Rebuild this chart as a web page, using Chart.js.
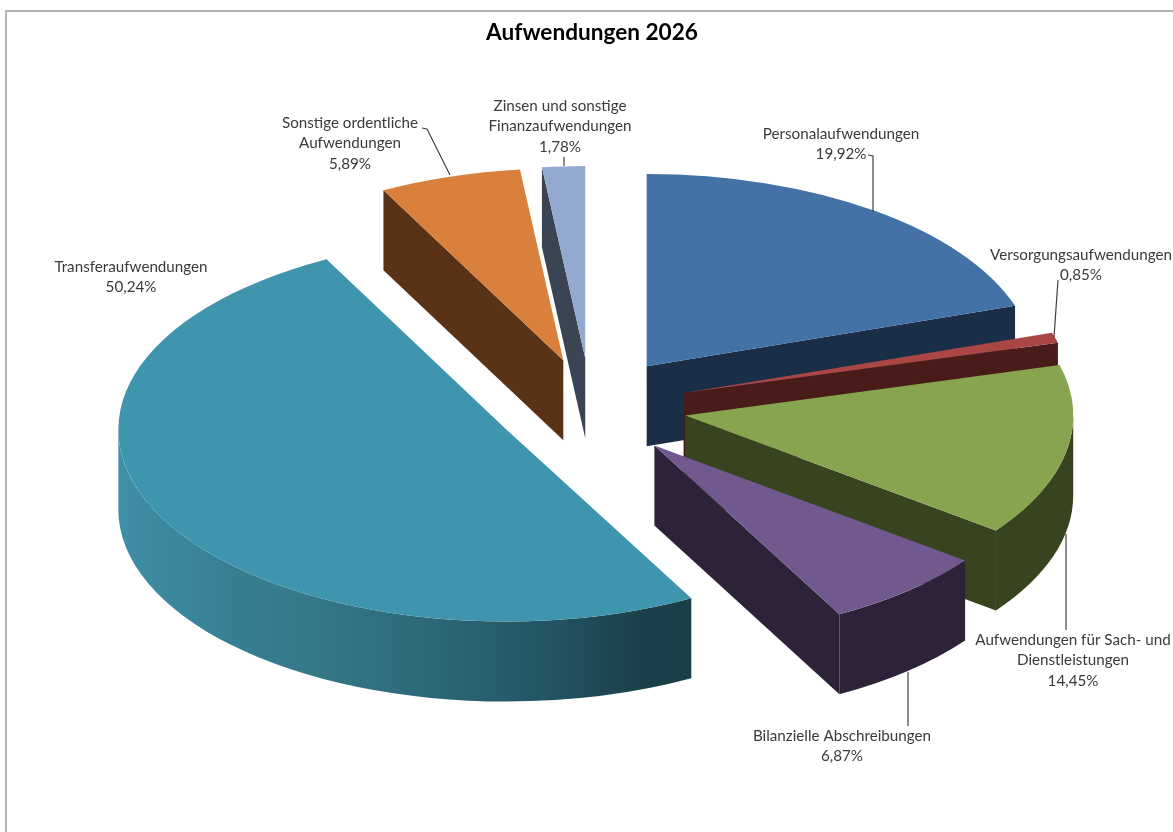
<!DOCTYPE html>
<html lang="de">
<head>
<meta charset="utf-8">
<title>Aufwendungen 2026</title>
<script src="https://cdn.jsdelivr.net/npm/chart.js@4"></script>
<style>
    html, body { margin: 0; padding: 0; background: #fff; }
    #box { width: 1173px; height: 832px; }
</style>
</head>
<body>
<div id="box"><canvas id="pieChart"></canvas></div>
<script>
// =======================================================
// Daten
// =======================================================

const categories = [
    "Personalaufwendungen",
    "Versorgungsaufwendungen",
    "Aufwendungen für Sach- und\nDienstleistungen",
    "Bilanzielle Abschreibungen",
    "Transferaufwendungen",
    "Sonstige ordentliche\nAufwendungen",
    "Zinsen und sonstige\nFinanzaufwendungen"
];
const values = [19.92, 0.85, 14.45, 6.87, 50.24, 5.89, 1.78];

const topColors  = ["#4471a6", "#aa4643", "#87a54f", "#71588f", "#4095ae", "#d8803c", "#93a9cf"];
const wallColors = ["#1a2e47", "#4a1c19", "#38431f", "#2d2238", "#1b3e49", "#5a3316", "#3b4453"];

// Explosion der Segmente, ungestauchte Pixel
const explode = [107, 105, 102, 100, 88, 105, 103];
// kleine Korrektur je Segment, Bildschirmpixel (Perspektive im Original)
const nudgeX = [-1, -2, 0, 4, -1, 9, 6];
const nudgeY = [0, -1, -3, -1, 0, 1, 0];
// hinten nach vorne
const drawOrder = [0, 1, 2, 3, 6, 5, 4];

const squash = 0.495;
const depth = 80;
const radius = 388;
const pieShiftX = -7;

// Textmitte und erste Zeile der Beschriftungen
const labelX = [841, 1081, 1073, 842, 131, 350, 560];
const labelY = [134, 255, 640, 736, 267, 123, 106];
const lineStep = 20.5;

// Führungslinien
const leaders = [
    [[868, 155], [873, 156], [873, 212]],
    [[1058, 280], [1054, 337]],
    [[1066, 534], [1066, 630]],
    [[908, 672], [908, 726]],
    [],
    [[422, 128], [427, 129], [450, 175]],
    [[564, 157], [564, 166]]
];

// =======================================================
// 3D: Seitenwände, dann die Arc-Elemente von Chart.js
// =======================================================

function drawWall(ctx, arc, i) {
    const {x, y, startAngle, endAngle} = arc.getProps(["x", "y", "startAngle", "endAngle"], true);
    const r = arc.outerRadius;
    const h = depth / squash;

    let fill = wallColors[i];
    if (i === 4) {
        // Transfer hat als einziges Segment einen Verlauf
        const g = ctx.createLinearGradient(x - r, 0, x + 181, 0);
        g.addColorStop(0, "#3f8fa6");
        g.addColorStop(0.2, "#367f93");
        g.addColorStop(0.35, "#347888");
        g.addColorStop(0.55, "#2c6878");
        g.addColorStop(0.75, "#235563");
        g.addColorStop(0.93, "#1a3e49");
        g.addColorStop(1, "#1b3e49");
        fill = g;
    }

    // nur die vordere Hälfte der Rundung ist sichtbar
    const from = Math.max(startAngle, 0);
    const to = Math.min(endAngle, Math.PI);
    if (from < to) {
        ctx.fillStyle = fill;
        ctx.beginPath();
        ctx.arc(x, y, r, from, to);
        ctx.arc(x, y + h, r, to, from, true);
        ctx.closePath();
        ctx.fill();
    }

    ctx.fillStyle = wallColors[i];
    const face = a => {
        const ex = x + Math.cos(a) * r;
        const ey = y + Math.sin(a) * r;
        ctx.beginPath();
        ctx.moveTo(x, y);
        ctx.lineTo(ex, ey);
        ctx.lineTo(ex, ey + h);
        ctx.lineTo(x, y + h);
        ctx.closePath();
        ctx.fill();
    };
    // Schnittflächen, die unter dem Segment liegen, weglassen
    if (Math.cos(startAngle) < 0) face(startAngle);
    if (Math.cos(endAngle) > 0) face(endAngle);
}

const pie3d = {
    id: "pie3d",
    beforeDatasetDraw(chart, args) {
        const ctx = chart.ctx;
        const arcs = args.meta.data;
        const cy = arcs[0].y;

        ctx.save();
        ctx.translate(pieShiftX, cy);
        ctx.scale(1, squash);
        ctx.translate(0, -cy);

        drawOrder.forEach(i => {
            const arc = arcs[i];
            const mid = (arc.startAngle + arc.endAngle) / 2;
            ctx.save();
            ctx.translate(
                Math.cos(mid) * explode[i] + nudgeX[i],
                Math.sin(mid) * explode[i] + nudgeY[i] / squash
            );
            drawWall(ctx, arc, i);
            arc.draw(ctx);
            ctx.restore();
        });

        ctx.restore();
        return false;
    },
    afterDraw(chart) {
        const ctx = chart.ctx;

        // Rahmen
        ctx.save();
        ctx.strokeStyle = "#b4b4b4";
        ctx.lineWidth = 2;
        ctx.beginPath();
        ctx.moveTo(6, 832);
        ctx.lineTo(6, 11);
        ctx.lineTo(1173, 11);
        ctx.stroke();

        // Führungslinien
        ctx.strokeStyle = "#404040";
        ctx.lineWidth = 1.2;
        leaders.forEach(pts => {
            if (pts.length === 0) return;
            ctx.beginPath();
            pts.forEach((p, n) => n === 0 ? ctx.moveTo(p[0], p[1]) : ctx.lineTo(p[0], p[1]));
            ctx.stroke();
        });

        // Beschriftungen
        ctx.fillStyle = "#3a3a3a";
        ctx.font = "15.2px Lato";
        ctx.textAlign = "center";
        ctx.textBaseline = "middle";
        categories.forEach((name, i) => {
            const lines = name.split("\n");
            lines.push(values[i].toFixed(2).replace(".", ",") + "%");
            lines.forEach((t, n) => ctx.fillText(t, labelX[i], labelY[i] + n * lineStep));
        });
        ctx.restore();
    }
};

// =======================================================
// Diagramm
// =======================================================

new Chart(document.getElementById("pieChart"), {
    type: "pie",
    data: {
        labels: categories.map(c => c.replace("\n", " ")),
        datasets: [{
            data: values,
            backgroundColor: topColors,
            borderWidth: 0,
            clip: false
        }]
    },
    options: {
        responsive: true,
        maintainAspectRatio: false,
        animation: false,
        radius: radius,
        layout: { padding: { left: 11, bottom: 69 } },
        plugins: {
            legend: { display: false },
            tooltip: { enabled: false },
            title: {
                display: true,
                text: "Aufwendungen 2026",
                color: "#000",
                font: { family: "Lato", size: 22.6, weight: "bold" },
                padding: { top: 19, bottom: 9 }
            }
        }
    },
    plugins: [pie3d]
});
</script>
</body>
</html>
